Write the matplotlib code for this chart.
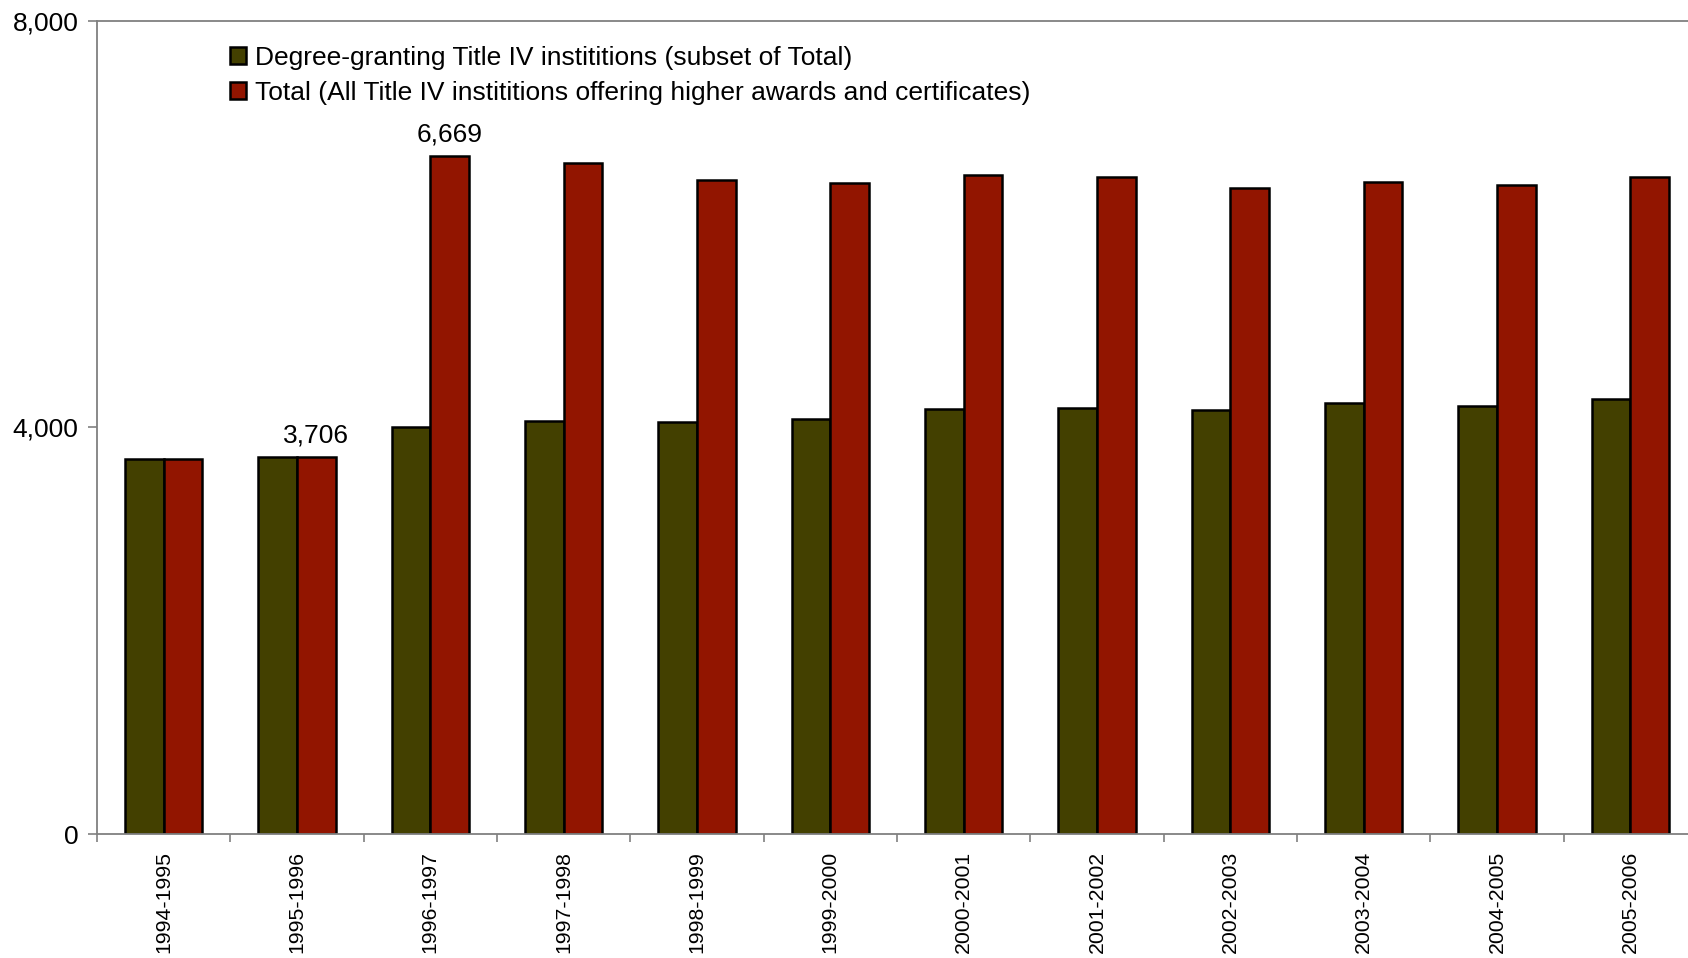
import matplotlib.pyplot as plt
from matplotlib.ticker import FuncFormatter, FixedLocator
import numpy as np

plt.rcParams['font.family'] = ['Liberation Sans', 'DejaVu Sans']

years = ['1994-1995', '1995-1996', '1996-1997', '1997-1998', '1998-1999', '1999-2000',
         '2000-2001', '2001-2002', '2002-2003', '2003-2004', '2004-2005', '2005-2006']
degree_granting = [3685, 3706, 4006, 4063, 4048, 4080, 4179, 4195, 4169, 4235, 4211, 4274]
total = [3685, 3706, 6669, 6597, 6430, 6403, 6479, 6459, 6354, 6410, 6384, 6463]
labelled = {1: 3706, 2: 6669}   # category index -> label shown over the Total bar

green = '#434000'
red = '#921500'
axis_grey = '#808080'

fig = plt.figure(figsize=(16.88, 9.58), dpi=100)
# the plot area runs past the right edge of the picture, as in the original
ax = fig.add_axes([97 / 1688, 124 / 958, 1600 / 1688, 813.3 / 958])

x = np.arange(len(years))
w = 0.29
ax.bar(x - w / 2, degree_granting, w, color=green, edgecolor='black', linewidth=1.8,
       label='Degree-granting Title IV instititions (subset of Total)')
ax.bar(x + w / 2, total, w, color=red, edgecolor='black', linewidth=1.8,
       label='Total (All Title IV instititions offering higher awards and certificates)')

for i, v in labelled.items():
    ax.annotate(f'{v:,}', (x[i] + w / 2, v), xytext=(0, 7), textcoords='offset points',
                ha='center', va='bottom', fontsize=19)

ax.set_xlim(-0.5, len(years) - 0.5)
ax.set_ylim(0, 8000)
ax.set_yticks([0, 4000, 8000])
ax.yaxis.set_major_formatter(FuncFormatter(lambda v, p: f'{int(v):,}'))
ax.tick_params(axis='y', direction='out', length=6.5, width=1.2, color=axis_grey,
               labelsize=19, pad=7)

ax.set_xticks(x)
ax.set_xticklabels(years, rotation=90)
ax.tick_params(axis='x', which='major', length=0, labelsize=15.3, pad=12)
ax.xaxis.set_minor_locator(FixedLocator(np.arange(len(years) + 1) - 0.5))
ax.tick_params(axis='x', which='minor', direction='out', length=5.5, width=1.2, color=axis_grey)

for side in ['left', 'top', 'bottom']:
    ax.spines[side].set_color(axis_grey)
    ax.spines[side].set_linewidth(1.3)
ax.spines['right'].set_visible(False)

ax.legend(loc='upper left', bbox_to_anchor=(230 / 1688, 1 - 46 / 958),
          bbox_transform=fig.transFigure, frameon=False, fontsize=19,
          handlelength=0.6, handleheight=0.6, handletextpad=0.35,
          labelspacing=0.42, borderpad=0, borderaxespad=0)

fig.savefig('out.png', dpi=100)
